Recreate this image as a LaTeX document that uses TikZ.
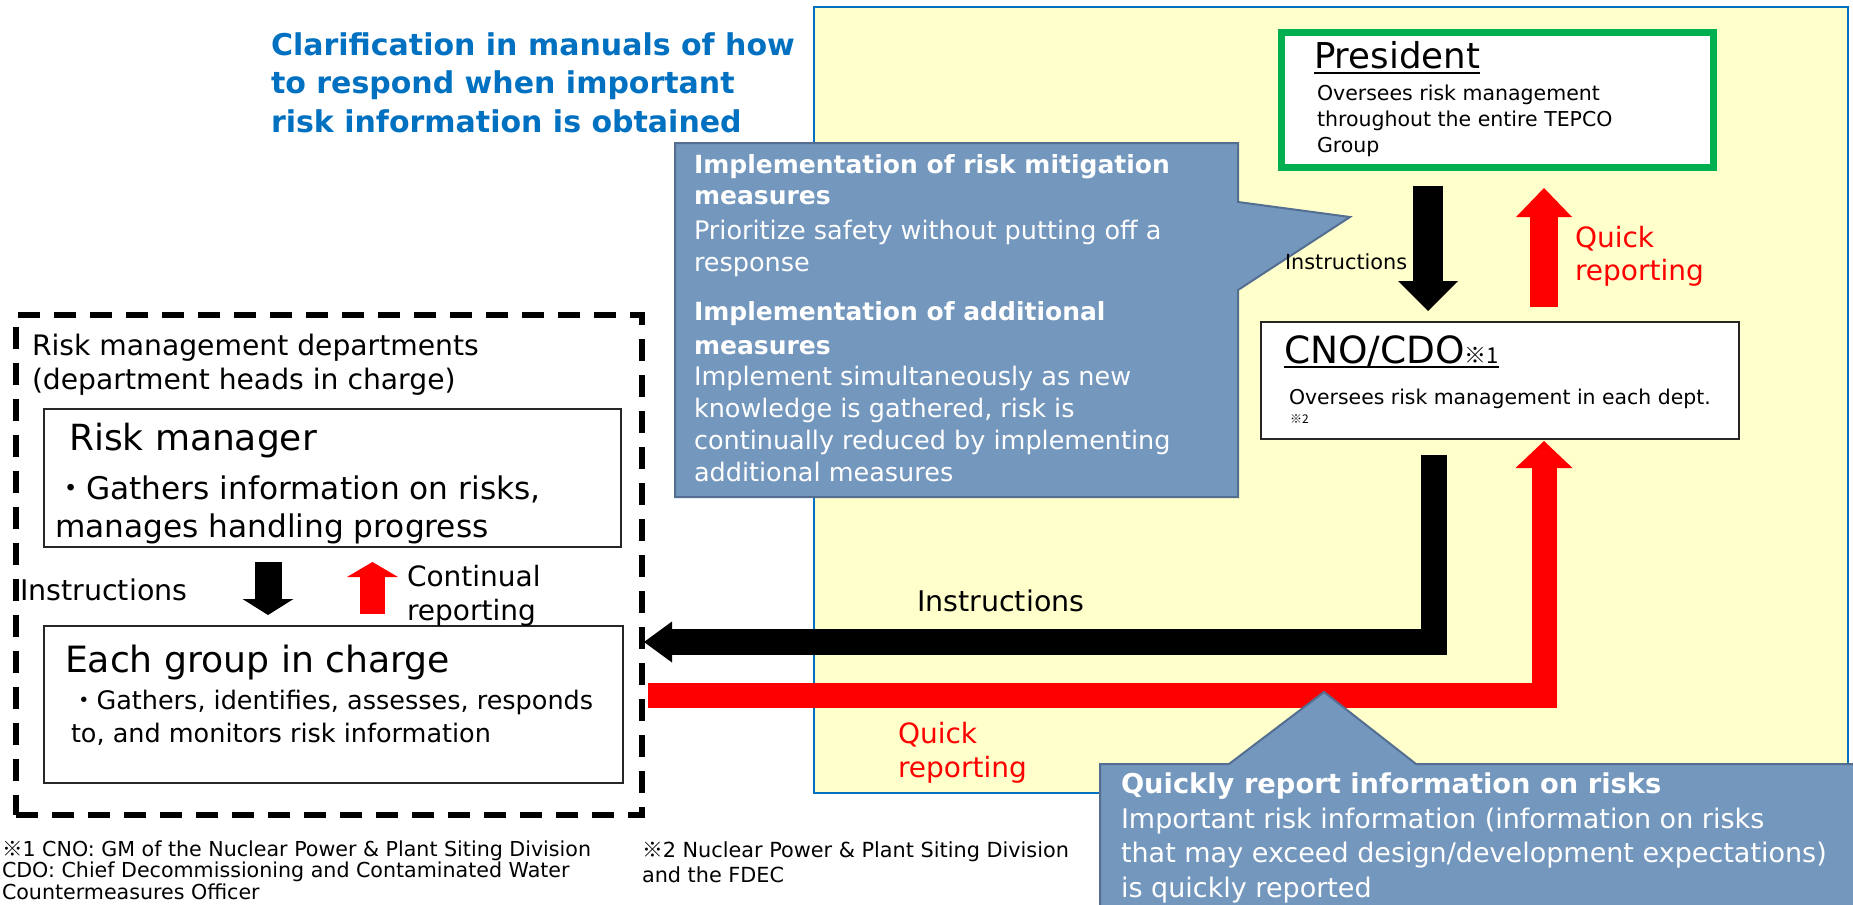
\documentclass[tikz,border=0pt]{standalone}
\usepackage{fontspec}
\setmainfont{DejaVu Sans}
\newfontfamily\cjk{Noto Sans CJK JP}
\usetikzlibrary{arrows.meta}
\definecolor{ttl}{HTML}{0070C0}
\definecolor{ylw}{HTML}{FFFFCC}
\definecolor{grn}{HTML}{00B050}
\definecolor{cfill}{RGB}{116,151,190}
\definecolor{cdraw}{RGB}{84,110,145}
\definecolor{rd}{HTML}{FF0000}
\newcommand\fs[2]{\fontsize{#1}{#2}\selectfont}
\begin{document}
\begin{tikzpicture}[x=1pt,y=-1pt,
  txt/.style={inner sep=0pt,outer sep=0pt,anchor=base west,align=left},
  plainbox/.style={draw=black!85,line width=1.6pt,fill=white,anchor=north west,inner sep=0pt},
  callout/.style={fill=cfill,draw=cdraw,line width=2pt,line join=miter},
  blockarrow/.style={line width=#1,line join=miter,line cap=butt},
]
\fill[white] (0,0) rectangle (1853,905);
\useasboundingbox (0,0) rectangle (1853,905);

% yellow zone
\node[draw=ttl,line width=2pt,fill=ylw,anchor=north west,inner sep=0pt,minimum width=1034pt,minimum height=786pt] (zone) at (813,6) {};

% title (multi-line nodes are placed by the baseline of their last line)
\node[txt,font=\bfseries\fs{30}{38.5},text=ttl] (title) at (271,132) {Clarification in manuals of how\\to respond when important\\risk information is obtained};

% dashed department frame
\node[draw=black,line width=6pt,dash pattern=on 22pt off 14pt,anchor=north west,inner sep=0pt,minimum width=626pt,minimum height=500pt] (dept) at (13,312) {};
\node[txt,font=\fs{28.2}{34}] (deptt) at (32,389) {Risk management departments\\(department heads in charge)};

% risk manager
\node[plainbox,minimum width=577pt,minimum height=138pt] (rm) at (43,408) {};
\node[txt,font=\fs{36}{38}] (rmt) at (69,450) {Risk manager};
\node[txt,font=\fs{31.2}{38}] (rmd) at (55,537) {{\cjk ・}Gathers information on risks,\\manages handling progress};

% each group
\node[plainbox,minimum width=579pt,minimum height=157pt] (eg) at (43,625) {};
\node[txt,font=\fs{36.2}{38}] (egt) at (65,672) {Each group in charge};
\node[txt,font=\fs{25.5}{33}] (egd) at (71,742) {{\cjk ・}Gathers, identifies, assesses, responds\\to, and monitors risk information};

% president
\node[draw=grn,line width=7pt,fill=white,anchor=north west,inner sep=0pt,minimum width=432pt,minimum height=135pt] (pres) at (1277.5,28.5) {};
\node[txt,font=\fs{35.6}{40}] (prest) at (1314,68) {President};
\draw[line width=1.8pt] ([yshift=-5pt]prest.base west) -- ([yshift=-5pt]prest.base east);
\node[txt,font=\fs{20.5}{26}] (presd) at (1317,152) {Oversees risk management\\throughout the entire TEPCO\\Group};

% CNO/CDO
\node[plainbox,minimum width=478pt,minimum height=117pt] (cno) at (1260,321) {};
\node[txt,font=\fs{37.5}{40}] (cnot) at (1284,363) {CNO/CDO{\cjk\fs{22}{24}※1}};
\draw[line width=1.6pt] ([yshift=-4pt]cnot.base west) -- ([yshift=-4pt]cnot.base east);
\node[txt,font=\fs{20.4}{24}] (cnod) at (1289,404) {Oversees risk management in each dept.};
\node[txt,font=\cjk\fs{12}{14}] (cnon) at (1290,423) {※2};

% arrows
\coordinate (a1s) at (1428,186); \coordinate (a1e) at (1428,311);
\draw[blockarrow=30pt,black,-{Triangle[width=60pt,length=30pt,line width=0pt]}] (a1s) -- (a1e);
\coordinate (a2s) at (1544,307); \coordinate (a2e) at (1544,188);
\draw[blockarrow=28pt,rd,-{Triangle[width=56pt,length=29pt,line width=0pt]}] (a2s) -- (a2e);

\coordinate (a3s) at (1434,455); \coordinate (a3c) at (1434,642); \coordinate (a3e) at (644,642);
\draw[blockarrow=26pt,black,-{Triangle[width=41pt,length=28pt,line width=0pt]}] (a3s) -- (a3c) -- (a3e);
\coordinate (a4s) at (648,695); \coordinate (a4c) at (1544,695); \coordinate (a4e) at (1544,441);
\draw[blockarrow=25pt,rd,-{Triangle[width=57pt,length=27pt,line width=0pt]}] (a4s) -- (a4c) -- (a4e);

\coordinate (a5s) at (268,562); \coordinate (a5e) at (268,615);
\draw[blockarrow=27pt,black,-{Triangle[width=51pt,length=16pt,line width=0pt]}] (a5s) -- (a5e);
\coordinate (a6s) at (372.5,614); \coordinate (a6e) at (372.5,562);
\draw[blockarrow=25pt,rd,-{Triangle[width=51pt,length=15pt,line width=0pt]}] (a6s) -- (a6e);

% callout 1
\draw[callout] (675,143) -- (1238,143) -- (1238,202) -- (1350,217) -- (1238,290) -- (1238,497) -- (675,497) -- cycle;
\node[txt,font=\bfseries\fs{25}{31},text=white] (c1a) at (694,204) {Implementation of risk mitigation\\measures};
\node[txt,font=\fs{25.5}{32},text=white] (c1b) at (694,271) {Prioritize safety without putting off a\\response};
\node[txt,font=\bfseries\fs{25}{34},text=white] (c1c) at (694,354) {Implementation of additional\\measures};
\node[txt,font=\fs{25.5}{31.7},text=white] (c1d) at (694,481) {Implement simultaneously as new\\knowledge is gathered, risk is\\continually reduced by implementing\\additional measures};

% callout 2
\draw[callout] (1100,764) -- (1229,764) -- (1324,692) -- (1416,764) -- (1870,764) -- (1870,920) -- (1100,920) -- cycle;
\node[txt,font=\bfseries\fs{27.3}{34},text=white] (c2a) at (1121,793) {Quickly report information on risks};
\node[txt,font=\fs{27}{34.5},text=white] (c2b) at (1121,897) {Important risk information (information on risks\\that may exceed design/development expectations)\\is quickly reported};

% labels
\node[txt,font=\fs{20.8}{24}] (l1) at (1285,269) {Instructions};
\node[txt,font=\fs{28}{33},text=rd] (l2) at (1575,280) {Quick\\reporting};
\node[txt,font=\fs{28.5}{33}] (l3) at (917,611) {Instructions};
\node[txt,font=\fs{28}{34},text=rd] (l4) at (898,777) {Quick\\reporting};
\node[txt,font=\fs{28.5}{33}] (l5) at (20,600) {Instructions};
\node[txt,font=\fs{28}{34}] (l6) at (407,620) {Continual\\reporting};

% footnotes
\node[txt,font=\fs{20.6}{21.5}] (f1) at (2,899) {{\cjk ※}1 CNO: GM of the Nuclear Power \& Plant Siting Division\\CDO: Chief Decommissioning and Contaminated Water\\Countermeasures Officer};
\node[txt,font=\fs{20.8}{25}] (f2) at (642,882) {{\cjk ※}2 Nuclear Power \& Plant Siting Division\\and the FDEC};
\end{tikzpicture}
\end{document}
